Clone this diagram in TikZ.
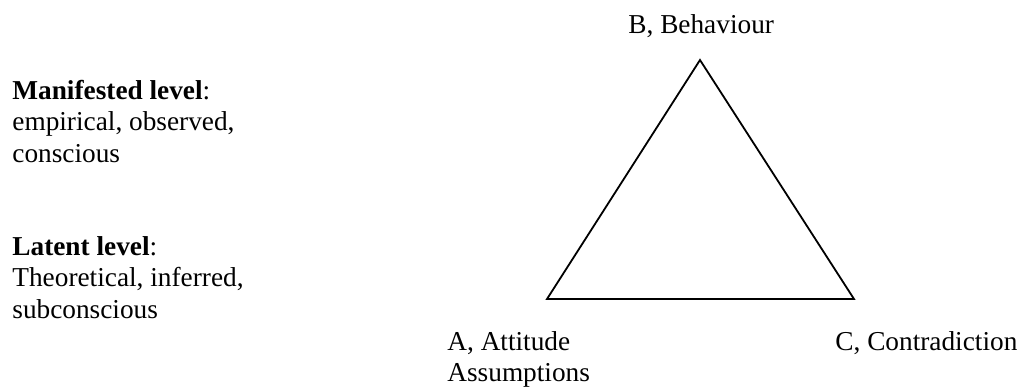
\documentclass[tikz,border=0pt]{standalone}
\usepackage{fontspec}
\setmainfont{Liberation Serif}
\begin{document}
\begin{tikzpicture}[x=0.5pt,y=-0.5pt,
  lbl/.style={inner sep=0pt,anchor=base west,font=\fontsize{13.65}{15.75}\selectfont},
  side/.style={line width=0.9pt,line join=miter}]
\useasboundingbox (0,0) rectangle (1019,387);
% vertices
\coordinate (B) at (700,60);
\coordinate (A) at (547,299);
\coordinate (C) at (854,299);
\draw[side] (A) -- (B) -- (C) -- cycle;
% labels
\node[lbl] (lb) at (628,33) {B, Behaviour};
\node[lbl] (la) at (447,350) {\begin{tabular}[t]{@{}l@{}}A, Attitude\\Assumptions\end{tabular}};
\node[lbl] (lc) at (835,350) {C, Contradiction};
\node[lbl] (man) at (12,99) {\begin{tabular}[t]{@{}l@{}}\textbf{Manifested level}:\\empirical, observed,\\conscious\end{tabular}};
\node[lbl] (lat) at (12,255) {\begin{tabular}[t]{@{}l@{}}\textbf{Latent level}:\\Theoretical, inferred,\\subconscious\end{tabular}};
\end{tikzpicture}
\end{document}
